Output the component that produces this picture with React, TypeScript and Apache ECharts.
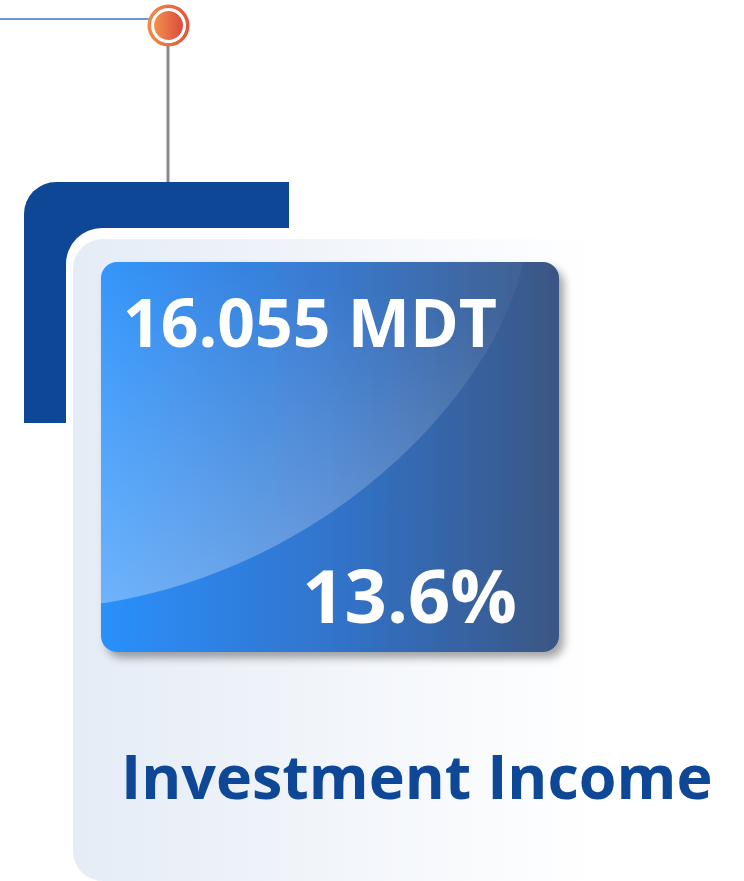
import React, { useEffect, useRef } from "react";
import * as echarts from "echarts";

const labels = ["Investment Income"];
const amounts = [16.055];
const units = ["MDT"];
const shares = [13.6];

const FONT = '"Open Sans", "Noto Sans", sans-serif';

export default function App() {
  const ref = useRef<HTMLDivElement>(null);
  useEffect(() => {
    document.body.style.margin = "0";
    if (!ref.current) return;
    const chart = echarts.init(ref.current, null, { renderer: "svg" });
    echarts.graphic.registerShape(
      "gloss",
      echarts.graphic.extendPath(
        "M117 262 L523 262 C500 380 345 563 105 603 L101 603 L101 278 Q101 262 117 262 Z",
        {}
      )
    );
    const boxGrad = new echarts.graphic.LinearGradient(0, 0, 1, 0, [
      { offset: 0, color: "#2b90fb" },
      { offset: 0.5, color: "#3174cc" },
      { offset: 1, color: "#3b5683" },
    ]);
    const glossGrad = new echarts.graphic.LinearGradient(0.2, 0, 0, 1, [
      { offset: 0, color: "rgba(255,255,255,0.04)" },
      { offset: 1, color: "rgba(255,255,255,0.32)" },
    ]);
    const panelGrad = new echarts.graphic.LinearGradient(0, 0, 1, 0, [
      { offset: 0, color: "#e5ecf6" },
      { offset: 0.75, color: "#ffffff" },
      { offset: 1, color: "#ffffff" },
    ]);
    const dotGrad = new echarts.graphic.LinearGradient(0, 0, 1, 0, [
      { offset: 0, color: "#f4904a" },
      { offset: 1, color: "#d94a3f" },
    ]);
    const ringGrad = new echarts.graphic.LinearGradient(0, 0, 1, 0, [
      { offset: 0, color: "#f28a46" },
      { offset: 1, color: "#e0563f" },
    ]);
    chart.setOption({
      animation: false,
      backgroundColor: "#ffffff",
      graphic: [
        { type: "line", shape: { x1: 0, y1: 19, x2: 152, y2: 19 }, style: { stroke: "#3d70d2", lineWidth: 1.5 } },
        { type: "line", shape: { x1: 168, y1: 45, x2: 168, y2: 183 }, style: { stroke: "#8a8a8a", lineWidth: 3 } },
        { type: "ring", shape: { cx: 168.5, cy: 25.5, r: 21, r0: 17.5 }, style: { fill: ringGrad } },
        { type: "circle", shape: { cx: 168.5, cy: 25.5, r: 14.5 }, style: { fill: dotGrad } },
        { type: "rect", shape: { x: 24, y: 182, width: 265, height: 241, r: [32, 0, 0, 0] }, style: { fill: "#0d4795" } },
        { type: "rect", shape: { x: 66, y: 228, width: 700, height: 700, r: [36, 0, 0, 36] }, style: { fill: "#ffffff" } },
        { type: "rect", shape: { x: 73, y: 239, width: 700, height: 642, r: [30, 0, 0, 30] }, style: { fill: panelGrad } },
        {
          type: "rect",
          shape: { x: 101, y: 262, width: 458, height: 390, r: 16 },
          style: { fill: boxGrad, shadowColor: "rgba(0,0,0,0.35)", shadowBlur: 8, shadowOffsetX: 5, shadowOffsetY: 6 },
        },
        { type: "gloss", style: { fill: glossGrad } },
        {
          type: "text",
          style: {
            text: `${amounts[0].toFixed(3)} ${units[0]}`,
            x: 123, y: 321, align: "left", verticalAlign: "middle",
            fill: "#ffffff", font: `bold 66px ${FONT}`,
          },
        },
        {
          type: "text",
          style: {
            text: `${shares[0].toFixed(1)}%`,
            x: 517, y: 594, align: "right", verticalAlign: "middle",
            fill: "#ffffff", font: `bold 74px ${FONT}`,
          },
        },
        {
          type: "text",
          style: {
            text: labels[0],
            x: 121, y: 775, align: "left", verticalAlign: "middle",
            fill: "#0d4795", font: `bold 61px ${FONT}`,
          },
        },
      ],
    });
    return () => chart.dispose();
  }, []);
  return <div ref={ref} style={{ width: 744, height: 881 }} />;
}
